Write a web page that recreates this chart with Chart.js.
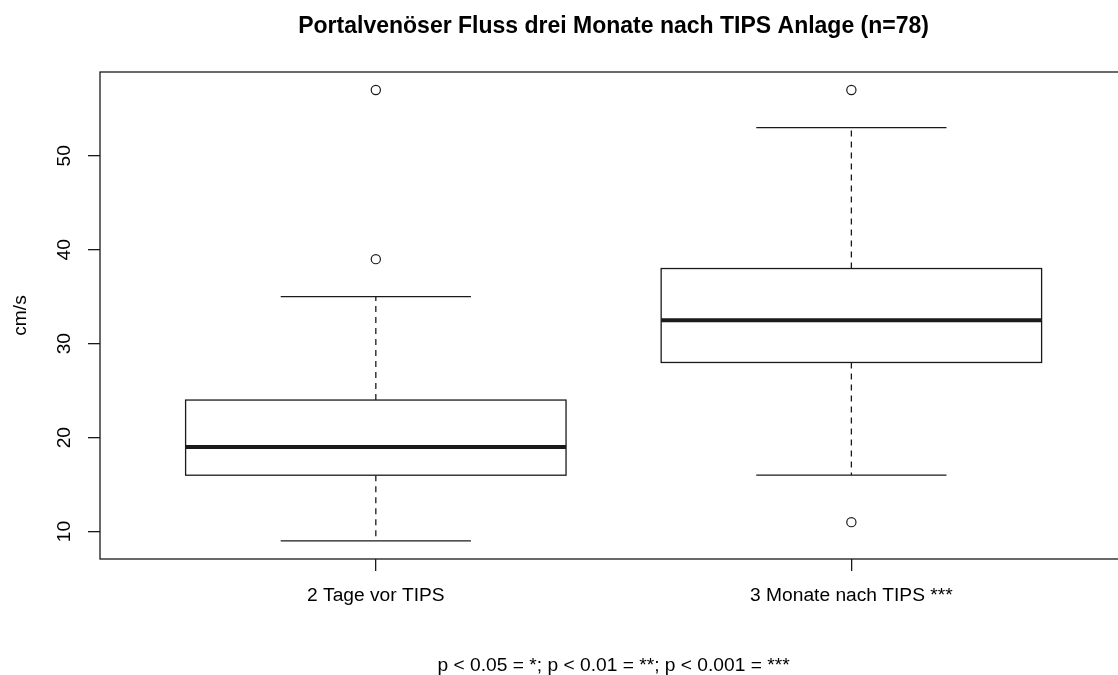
<!DOCTYPE html>
<html>
<head>
<meta charset="utf-8">
<script src="https://cdn.jsdelivr.net/npm/chart.js@4.4.1/dist/chart.umd.min.js"></script>
<style>
  html, body { margin: 0; padding: 0; background: #fff; overflow: hidden; width: 1118px; height: 675px; }
  #wrap { position: absolute; left: 0; top: 0; width: 1133px; height: 675px; }
</style>
</head>
<body>
<div id="wrap"><canvas id="c" width="1133" height="675"></canvas></div>
<script>
// ---- data ----
const categories = ['2 Tage vor TIPS', '3 Monate nach TIPS ***'];
const positions = [1, 2];
const whiskerLow = [9, 16];
const q1 = [16, 28];
const median = [19, 32.5];
const q3 = [24, 38];
const whiskerHigh = [35, 53];
const outliers = [[39, 57], [11, 57]];
const yTicks = [10, 20, 30, 40, 50];
const yMin = 7.08, yMax = 58.92;
const xMin = 0.42, xMax = 2.58;
const boxHalf = 0.4, stapleHalf = 0.2;

const titleText = 'Portalvenöser Fluss drei Monate nach TIPS Anlage (n=78)';
const subText = 'p < 0.05 = *; p < 0.01 = **; p < 0.001 = ***';
const yTitle = 'cm/s';

const FONT = "'Liberation Sans', Arial, Helvetica, sans-serif";
const INK = '#1a1a1a';

const outlierData = [];
outliers.forEach((arr, i) => arr.forEach(v => outlierData.push({ x: positions[i], y: v })));

const boxPlugin = {
  id: 'boxes',
  beforeDatasetsDraw(chart) {
    const { ctx, scales: { x, y } } = chart;
    ctx.save();
    ctx.strokeStyle = INK;
    positions.forEach((p, i) => {
      const xc = x.getPixelForValue(p);
      const xl = x.getPixelForValue(p - boxHalf);
      const xr = x.getPixelForValue(p + boxHalf);
      const sl = x.getPixelForValue(p - stapleHalf);
      const sr = x.getPixelForValue(p + stapleHalf);
      const yq1 = y.getPixelForValue(q1[i]);
      const yq3 = y.getPixelForValue(q3[i]);
      const ymed = y.getPixelForValue(median[i]);
      const ylo = y.getPixelForValue(whiskerLow[i]);
      const yhi = y.getPixelForValue(whiskerHigh[i]);
      ctx.lineWidth = 1.3;
      ctx.setLineDash([6, 5]);
      ctx.beginPath();
      ctx.moveTo(xc, yq3); ctx.lineTo(xc, yhi);
      ctx.moveTo(xc, yq1); ctx.lineTo(xc, ylo);
      ctx.stroke();
      ctx.setLineDash([]);
      ctx.beginPath();
      ctx.moveTo(sl, yhi); ctx.lineTo(sr, yhi);
      ctx.moveTo(sl, ylo); ctx.lineTo(sr, ylo);
      ctx.stroke();
      ctx.fillStyle = '#fff';
      ctx.fillRect(xl, yq3, xr - xl, yq1 - yq3);
      ctx.strokeRect(xl, yq3, xr - xl, yq1 - yq3);
      ctx.lineWidth = 4;
      ctx.beginPath();
      ctx.moveTo(xl, ymed); ctx.lineTo(xr, ymed);
      ctx.stroke();
    });
    ctx.restore();
  },
  afterDraw(chart) {
    const { ctx, chartArea: a } = chart;
    ctx.save();
    ctx.strokeStyle = INK;
    ctx.lineWidth = 1.3;
    ctx.strokeRect(a.left, a.top, a.right - a.left, a.bottom - a.top);
    ctx.restore();
  }
};

new Chart(document.getElementById('c'), {
  type: 'scatter',
  data: {
    datasets: [{
      label: 'Ausreißer',
      data: outlierData,
      pointStyle: 'circle',
      pointRadius: 4.6,
      pointHoverRadius: 4.6,
      pointBackgroundColor: 'rgba(255,255,255,0)',
      pointBorderColor: INK,
      pointBorderWidth: 1.2
    }]
  },
  options: {
    responsive: false,
    animation: false,
    devicePixelRatio: 1,
    layout: { padding: 0 },
    plugins: {
      legend: { display: false },
      tooltip: { enabled: false },
      title: {
        display: true,
        text: titleText,
        fullSize: false,
        color: '#000',
        font: { family: FONT, size: 23, weight: 'bold', lineHeight: 1.2 },
        padding: { top: 13, bottom: 31.4 }
      },
      subtitle: {
        display: true,
        position: 'bottom',
        text: subText,
        fullSize: false,
        color: '#000',
        font: { family: FONT, size: 19.2, weight: 'normal', lineHeight: 1.2 },
        padding: { top: 2, bottom: -2 }
      }
    },
    scales: {
      x: {
        type: 'linear',
        min: xMin,
        max: xMax,
        afterBuildTicks: s => { s.ticks = positions.map(v => ({ value: v })); },
        afterFit: s => { s.height = 675 - 559 - 19.2 * 1.2; },
        border: { display: false },
        grid: { drawOnChartArea: false, drawTicks: true, tickLength: 12, color: INK, lineWidth: 1.3 },
        ticks: {
          autoSkip: false,
          maxRotation: 0,
          padding: 13,
          color: '#000',
          font: { family: FONT, size: 19.2 },
          callback: v => categories[positions.indexOf(v)]
        }
      },
      y: {
        type: 'linear',
        min: yMin,
        max: yMax,
        afterBuildTicks: s => { s.ticks = yTicks.map(v => ({ value: v })); },
        afterFit: s => { s.width = 100; },
        border: { display: false },
        grid: { drawOnChartArea: false, drawTicks: true, tickLength: 12, color: INK, lineWidth: 1.3 },
        title: {
          display: true,
          text: yTitle,
          color: '#000',
          font: { family: FONT, size: 19.2, lineHeight: 1.2 },
          padding: { top: 9.6, bottom: 0 }
        },
        ticks: {
          autoSkip: false,
          minRotation: 90,
          maxRotation: 90,
          crossAlign: 'center',
          padding: 12.9,
          color: '#000',
          font: { family: FONT, size: 19.2 },
          callback: v => String(v)
        }
      }
    }
  },
  plugins: [boxPlugin]
});
</script>
</body>
</html>
